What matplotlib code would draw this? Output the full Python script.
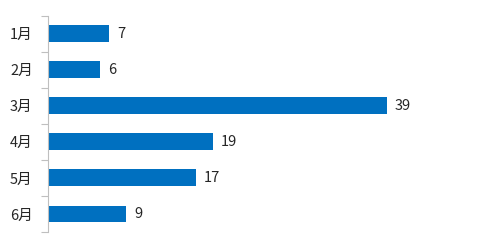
import matplotlib
matplotlib.use("Agg")
import matplotlib.pyplot as plt

plt.rcParams['font.family'] = ['Noto Sans CJK SC', 'DejaVu Sans']

months = ['1月', '2月', '3月', '4月', '5月', '6月']
values = [7, 6, 39, 19, 17, 9]

fig = plt.figure(figsize=(5, 2.5), dpi=100)
ax = fig.add_axes([48 / 500, 18 / 250, 434 / 500, 216.3 / 250])

pos = list(range(len(months)))
bars = ax.barh(pos, values, height=0.47, color='#0070C0')
ax.set_ylim(len(months) - 0.5, -0.5)
ax.set_xlim(0, 50)

for b, v in zip(bars, values):
    ax.text(b.get_width() + 0.95, b.get_y() + b.get_height() / 2, str(v),
            va='center', ha='left', fontsize=10.5, color='#262626')

# category boundary ticks on the left axis
ax.set_yticks([p - 0.5 for p in pos] + [len(months) - 0.5])
ax.set_yticklabels([])
ax.set_yticks(pos, minor=True)
ax.set_yticklabels(months, minor=True, fontsize=10.5, color='#262626')
ax.tick_params(axis='y', which='major', length=5, color='#BFBFBF', direction='out')
ax.tick_params(axis='y', which='minor', length=0, pad=11)

ax.set_xticks([])
for s in ['top', 'right', 'bottom']:
    ax.spines[s].set_visible(False)
ax.spines['left'].set_color('#BFBFBF')

fig.savefig('out.png', dpi=100)
